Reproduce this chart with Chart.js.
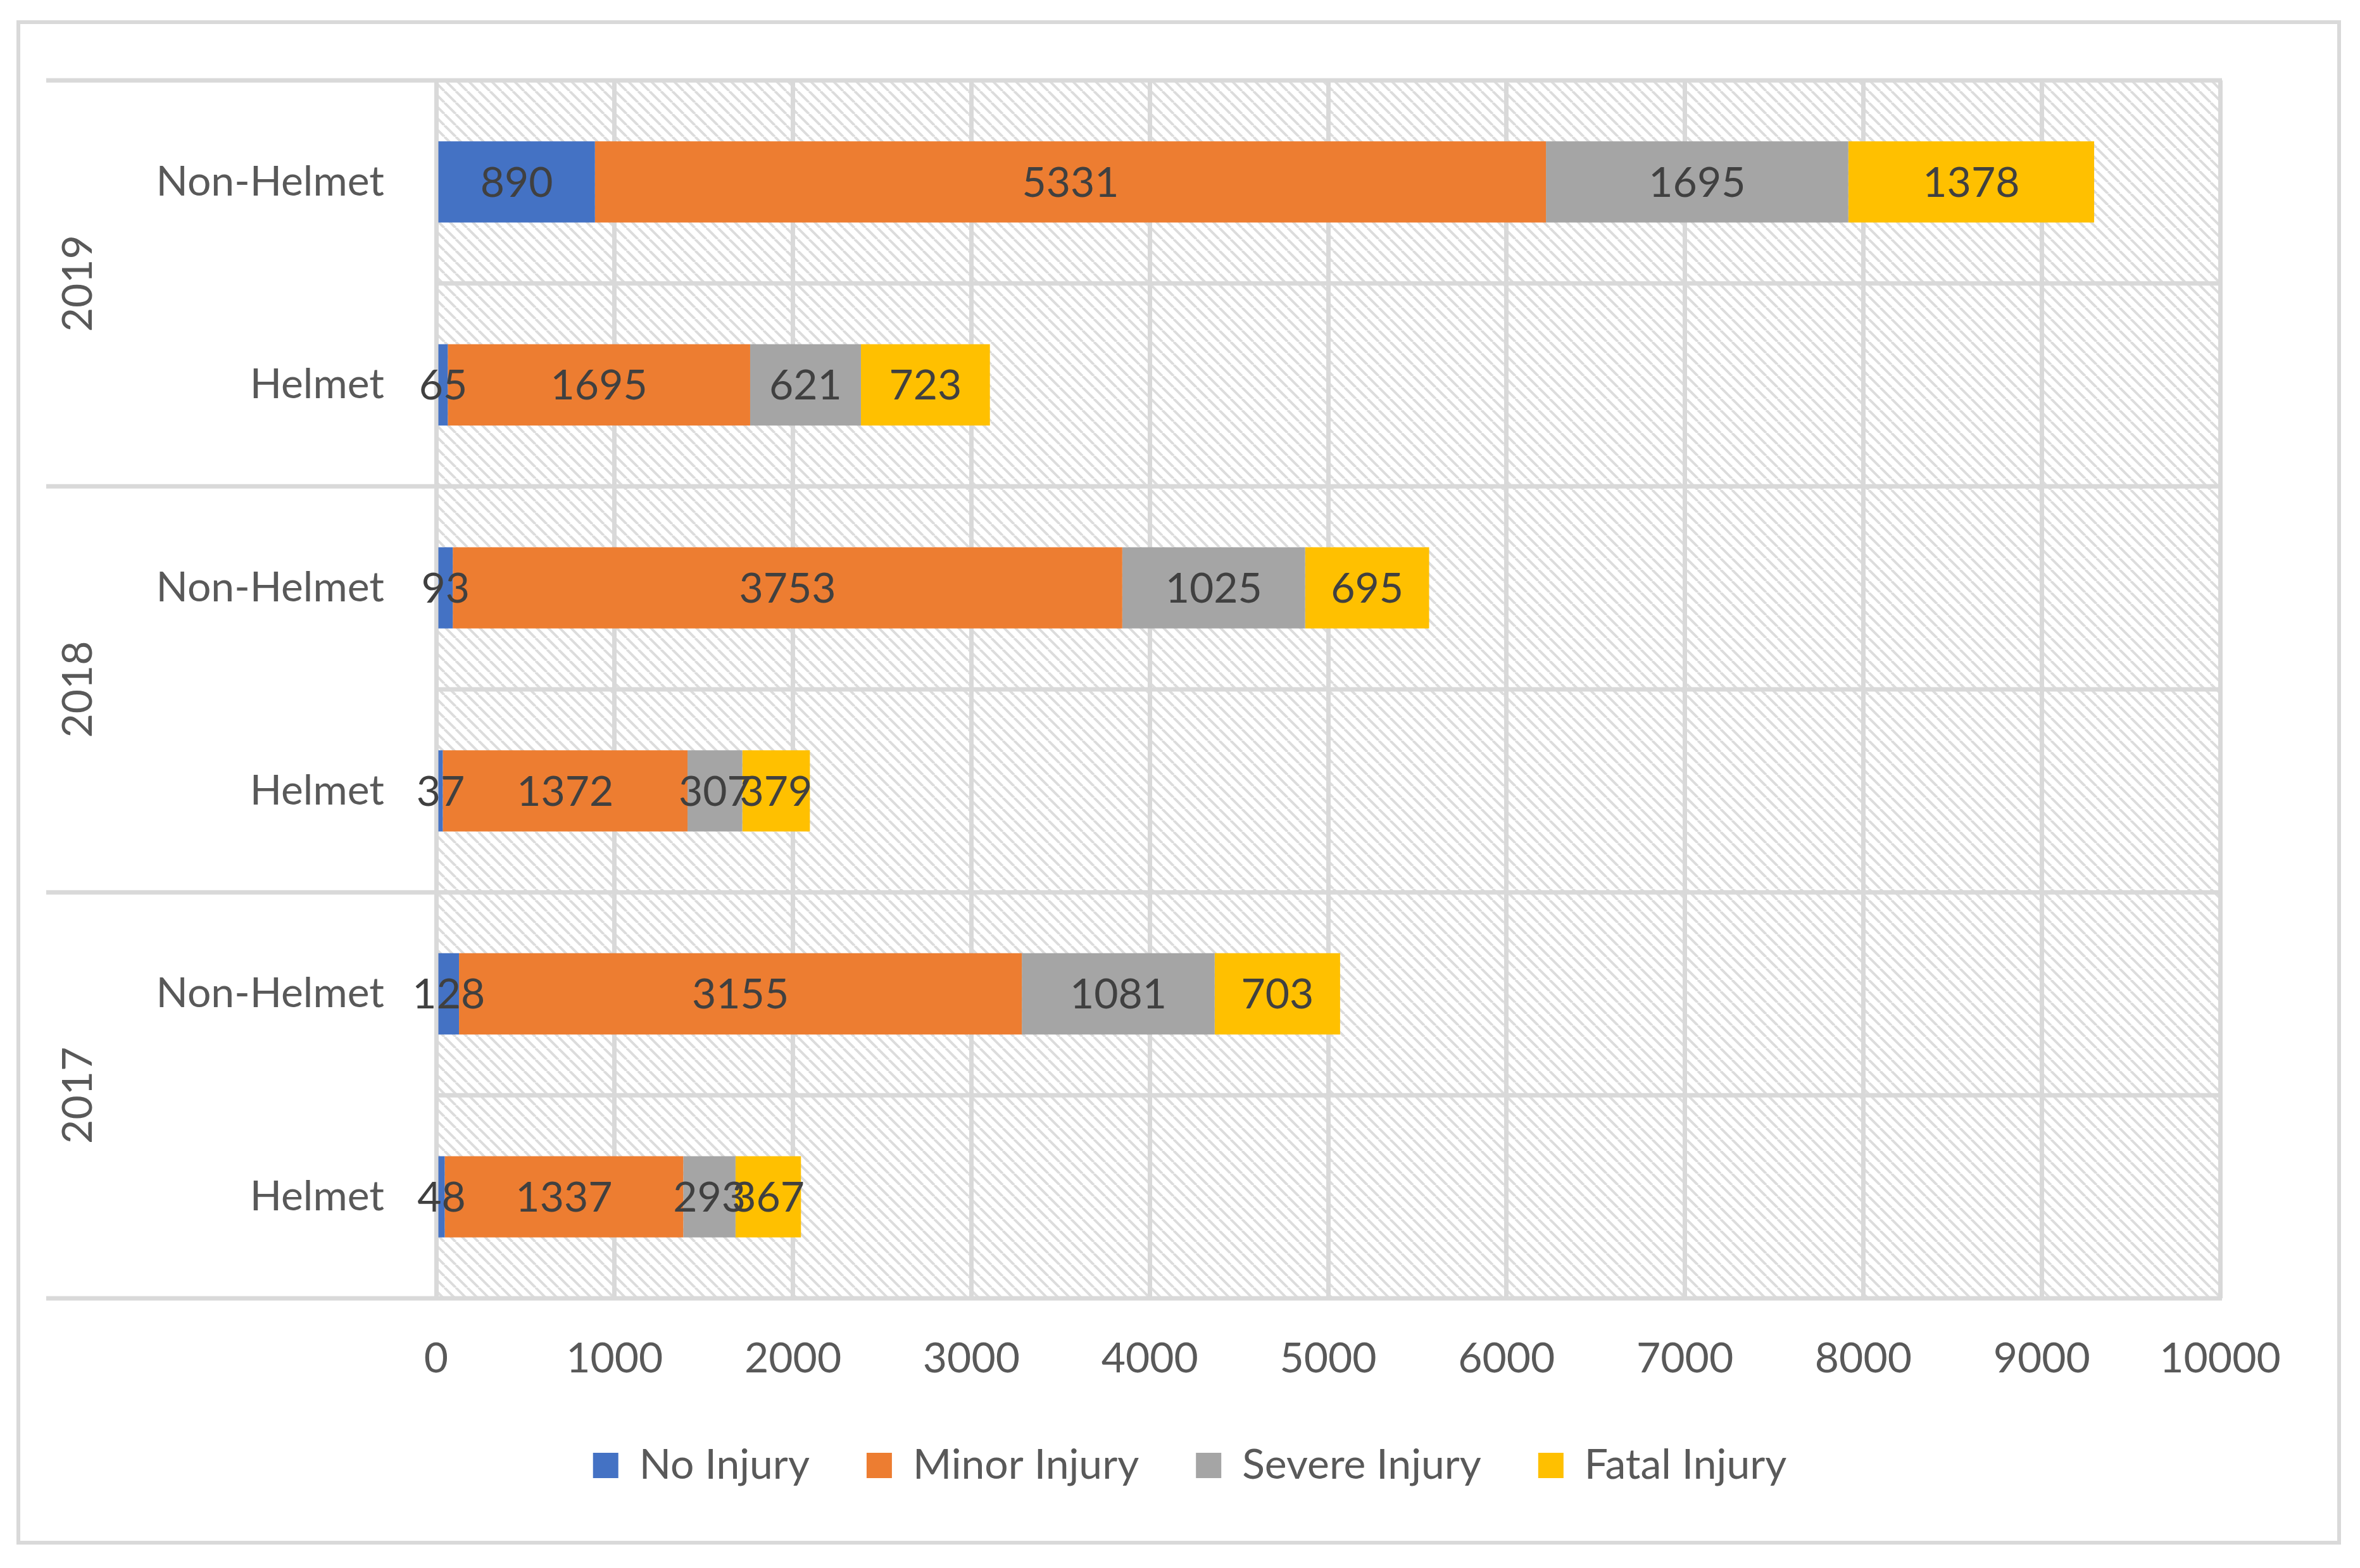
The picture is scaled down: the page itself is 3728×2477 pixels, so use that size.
<!DOCTYPE html>
<html>
<head>
<meta charset="utf-8">
<script src="https://cdn.jsdelivr.net/npm/chart.js@4/dist/chart.umd.min.js"></script>
<style>
  html, body { margin: 0; padding: 0; background: #ffffff; }
  canvas { display: block; }
</style>
</head>
<body>
<canvas id="injuryChart" width="3728" height="2477"></canvas>
<script>
// rows from top to bottom, grouped by year
const years = ['2019', '2018', '2017'];
const rowLabels = ['Non-Helmet', 'Helmet', 'Non-Helmet', 'Helmet', 'Non-Helmet', 'Helmet'];

const noInjury = [890, 65, 93, 37, 128, 48];
const minorInjury = [5331, 1695, 3753, 1372, 3155, 1337];
const severeInjury = [1695, 621, 1025, 307, 1081, 293];
const fatalInjury = [1378, 723, 695, 379, 703, 367];

const xTicks = [0, 1000, 2000, 3000, 4000, 5000, 6000, 7000, 8000, 9000, 10000];

const FONT = 'Lato';
const GRID = '#d9d9d9';

// diagonal hatch used as plot area background
function makeHatch(ctx) {
    const s = 18;
    const c = document.createElement('canvas');
    c.width = s;
    c.height = s;
    const g = c.getContext('2d');
    g.fillStyle = '#ffffff';
    g.fillRect(0, 0, s, s);
    g.strokeStyle = '#dcdcdc';
    g.lineWidth = 4;
    g.beginPath();
    [-s, 0, s].forEach(k => {
        g.moveTo(k, 0);
        g.lineTo(k + s, s);
    });
    g.stroke();
    return ctx.createPattern(c, 'repeat');
}

const frame = {
    id: 'frame',
    beforeDraw(chart) {
        const { ctx, chartArea: a } = chart;
        ctx.save();
        ctx.fillStyle = '#ffffff';
        ctx.fillRect(0, 0, chart.width, chart.height);
        ctx.fillStyle = makeHatch(ctx);
        ctx.fillRect(a.left, a.top, a.right - a.left, a.bottom - a.top);
        ctx.restore();
    },
    afterDraw(chart) {
        const { ctx, chartArea: a } = chart;
        const rowH = (a.bottom - a.top) / rowLabels.length;
        ctx.save();
        ctx.strokeStyle = GRID;
        ctx.lineWidth = 7;
        // row separators; group boundaries run out under the year labels
        for (let k = 0; k <= rowLabels.length; k++) {
            const y = a.top + k * rowH;
            ctx.beginPath();
            ctx.moveTo(k % 2 === 0 ? 73 : a.left, y);
            ctx.lineTo(a.right + 3, y);
            ctx.stroke();
        }
        // year labels
        ctx.fillStyle = '#595959';
        ctx.font = '66px ' + FONT;
        ctx.textAlign = 'center';
        ctx.textBaseline = 'middle';
        years.forEach((yr, g) => {
            ctx.save();
            ctx.translate(124, a.top + (2 * g + 1) * rowH);
            ctx.rotate(-Math.PI / 2);
            ctx.fillText(yr, 0, 0);
            ctx.restore();
        });
        // outer border
        ctx.lineWidth = 6;
        ctx.strokeRect(29, 35, 3666, 2402);
        ctx.restore();
    }
};

const valueLabels = {
    id: 'valueLabels',
    afterDatasetsDraw(chart) {
        const ctx = chart.ctx;
        ctx.save();
        ctx.font = '66px ' + FONT;
        ctx.fillStyle = '#404040';
        ctx.textAlign = 'center';
        ctx.textBaseline = 'middle';
        chart.data.datasets.forEach((ds, i) => {
            chart.getDatasetMeta(i).data.forEach((bar, j) => {
                const p = bar.getProps(['x', 'y', 'base'], true);
                ctx.fillText(ds.data[j], (p.x + p.base) / 2, p.y + 2);
            });
        });
        ctx.restore();
    }
};

const ctx = document.getElementById('injuryChart').getContext('2d');
new Chart(ctx, {
    type: 'bar',
    data: {
        labels: rowLabels,
        datasets: [
            { label: 'No Injury', data: noInjury, backgroundColor: '#4472c4' },
            { label: 'Minor Injury', data: minorInjury, backgroundColor: '#ed7d31' },
            { label: 'Severe Injury', data: severeInjury, backgroundColor: '#a5a5a5' },
            { label: 'Fatal Injury', data: fatalInjury, backgroundColor: '#ffc000' }
        ]
    },
    options: {
        indexAxis: 'y',
        responsive: false,
        devicePixelRatio: 1,
        animation: false,
        categoryPercentage: 1,
        barPercentage: 0.4,
        layout: {
            padding: { left: 252, top: 127, right: 221, bottom: 119 }
        },
        plugins: {
            tooltip: { enabled: false },
            legend: {
                position: 'bottom',
                labels: {
                    boxWidth: 40,
                    boxHeight: 40,
                    padding: 90,
                    color: '#595959',
                    font: { family: FONT, size: 66 }
                }
            }
        },
        scales: {
            x: {
                stacked: true,
                min: 0,
                max: 10000,
                afterBuildTicks: scale => {
                    scale.ticks = xTicks.map(v => ({ value: v }));
                },
                afterFit: scale => { scale.height = 141; },
                grid: { color: GRID, lineWidth: 7, drawTicks: false },
                border: { display: false },
                ticks: {
                    padding: 56,
                    color: '#595959',
                    font: { family: FONT, size: 66 },
                    callback: v => String(v)
                }
            },
            y: {
                stacked: true,
                afterFit: scale => { scale.width = 689 - 252; },
                grid: { display: false },
                border: { display: false },
                ticks: {
                    padding: 74,
                    color: '#595959',
                    font: { family: FONT, size: 66 }
                }
            }
        }
    },
    plugins: [frame, valueLabels]
});
</script>
</body>
</html>
